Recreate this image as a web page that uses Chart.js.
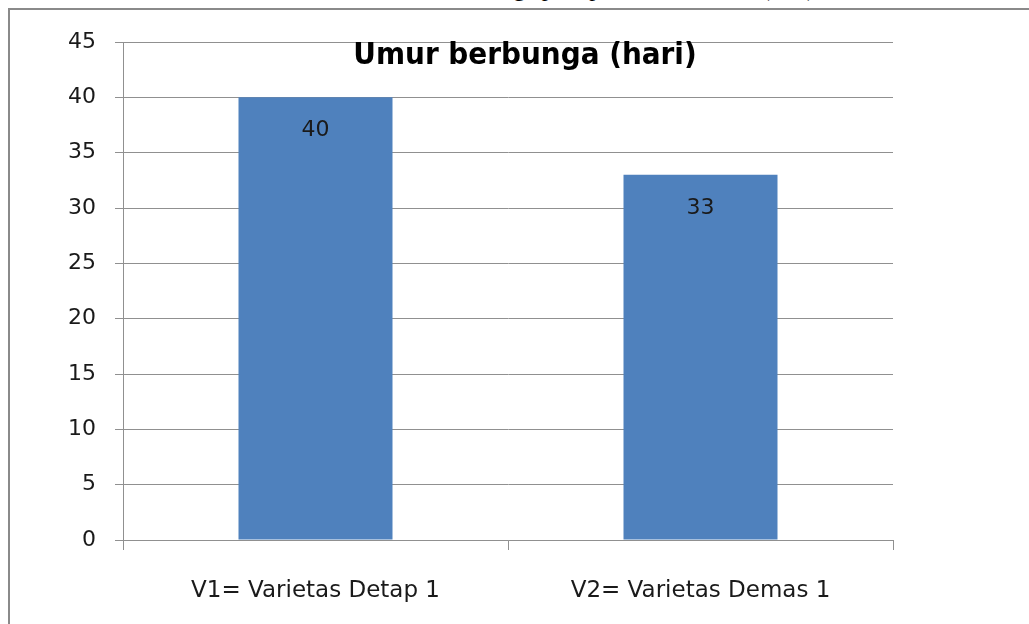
<!DOCTYPE html>
<html>
<head>
<meta charset="utf-8">
<script src="https://cdn.jsdelivr.net/npm/chart.js@4/dist/chart.umd.min.js"></script>
<style>
  html, body { margin: 0; padding: 0; background: #fff; overflow: hidden; }
  #wrap { position: relative; width: 1029px; height: 624px; overflow: hidden; }
  #caption {
    position: absolute; left: 0; top: -26px; width: 1029px; text-align: center;
    font-family: "Liberation Serif", serif; font-size: 24px; line-height: 28px; color: #000; white-space: nowrap;
  }
  #frame {
    position: absolute; left: 8px; top: 8px; width: 1100px; height: 700px;
    border: 2px solid #8a8a8a; box-sizing: border-box; background: #fff;
  }
  canvas { position: absolute; left: 0; top: 0; }
</style>
</head>
<body>
<div id="wrap">
  <div id="caption">Gambar 1. Grafik umur berbunga padi pada dua varietas (hari)</div>
  <div id="frame"></div>
  <canvas id="chart" width="1029" height="624"></canvas>
</div>
<script>
const categories = ["V1= Varietas Detap 1", "V2= Varietas Demas 1"];
const umurBerbunga = [40, 33];
const yTicks = [0, 5, 10, 15, 20, 25, 30, 35, 40, 45];
const chartTitle = "Umur berbunga (hari)";

const labelFont = '"DejaVu Sans", sans-serif';

// value labels inside the top of each bar
const barValues = {
  id: "barValues",
  afterDatasetsDraw(chart) {
    const ctx = chart.ctx;
    const meta = chart.getDatasetMeta(0);
    ctx.save();
    ctx.font = "22px " + labelFont;
    ctx.fillStyle = "#1a1a1a";
    ctx.textAlign = "center";
    ctx.textBaseline = "middle";
    meta.data.forEach((bar, i) => {
      ctx.fillText(String(umurBerbunga[i]), bar.x, bar.y + 33);
    });
    ctx.restore();
  },
};

// title sits inside the plot area, like the original
const innerTitle = {
  id: "innerTitle",
  afterDraw(chart) {
    const { ctx, chartArea } = chart;
    ctx.save();
    ctx.font = 'bold 31px "DejaVu Sans Condensed", "DejaVu Sans", sans-serif';
    ctx.fillStyle = "#000";
    ctx.textAlign = "center";
    ctx.textBaseline = "middle";
    ctx.fillText(chartTitle, (chartArea.left + chartArea.right) / 2 + 17, chartArea.top + 14);
    ctx.restore();
  },
};

new Chart(document.getElementById("chart").getContext("2d"), {
  type: "bar",
  data: {
    labels: categories,
    datasets: [
      {
        data: umurBerbunga,
        backgroundColor: "#4F81BD",
        borderWidth: 0,
        categoryPercentage: 1,
        barPercentage: 0.4,
      },
    ],
  },
  options: {
    responsive: false,
    animation: false,
    layout: { padding: { top: 42, right: 136, left: 0, bottom: 0 } },
    plugins: {
      legend: { display: false },
      title: { display: false },
      tooltip: { enabled: false },
    },
    scales: {
      y: {
        min: 0,
        max: 45,
        afterFit: (scale) => { scale.width = 123; },
        afterBuildTicks: (scale) => { scale.ticks = yTicks.map((v) => ({ value: v })); },
        ticks: {
          color: "#1a1a1a",
          font: { size: 22, family: labelFont },
          padding: 19,
        },
        grid: { color: "#909090", lineWidth: 1, tickLength: 8 },
        border: { color: "#909090" },
      },
      x: {
        afterFit: (scale) => { scale.height = 84; },
        ticks: {
          color: "#1a1a1a",
          font: { size: 23, family: labelFont },
          padding: 27,
        },
        grid: { offset: true, drawOnChartArea: false, tickLength: 10, color: "#909090" },
        border: { color: "#909090" },
      },
    },
  },
  plugins: [barValues, innerTitle],
});
</script>
</body>
</html>
